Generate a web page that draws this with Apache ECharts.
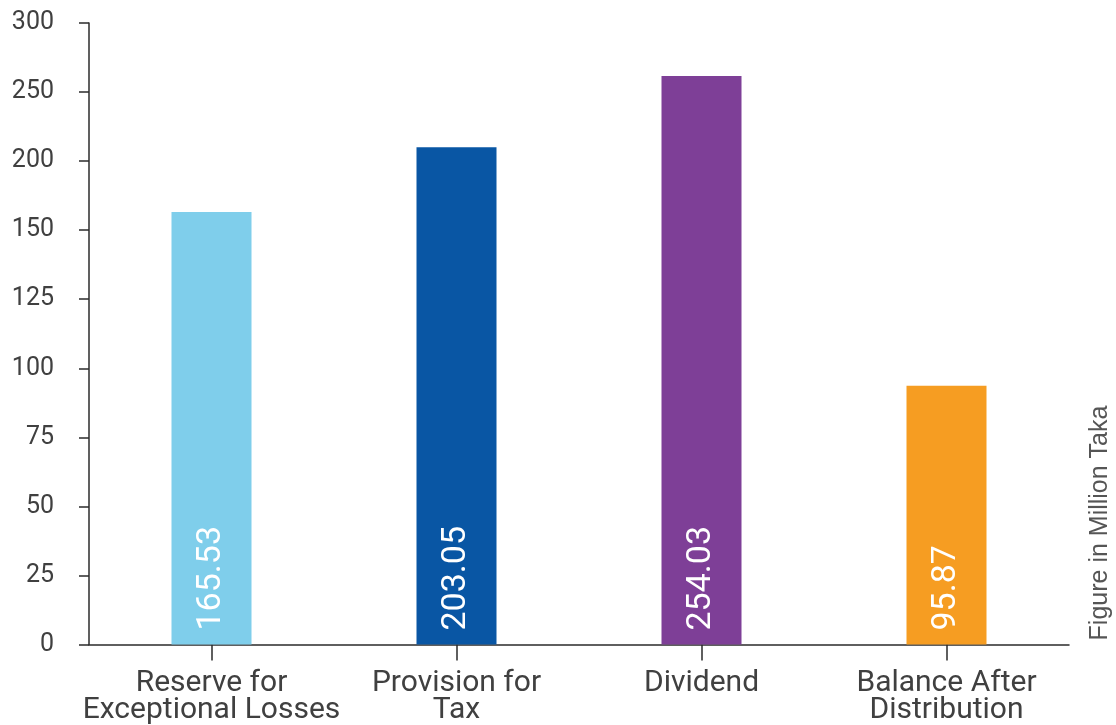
<!DOCTYPE html>
<html>
<head>
<meta charset="utf-8">
<script src="https://cdn.jsdelivr.net/npm/echarts@6/dist/echarts.min.js"></script>
<style>
  html, body { margin: 0; padding: 0; background: #ffffff; }
  #chart { width: 1116px; height: 725px; }
</style>
</head>
<body>
<div id="chart"></div>
<script>
// Appropriation of profit, figures in million Taka
const categories = [
  'Reserve for\nExceptional Losses',
  'Provision for\nTax',
  'Dividend',
  'Balance After\nDistribution'
];
const amounts = [165.53, 203.05, 254.03, 95.87];
const barColors = ['#7FCEEB', '#0956A4', '#7E3F97', '#F69D22'];
const yTickLabels = ['0', '25', '50', '75', '100', '125', '150', '200', '250', '300'];
const unitNote = 'Figure in Million Taka';

const axisColor = '#2b2b2b';
const textColor = '#404040';

const chart = echarts.init(document.getElementById('chart'), null, { renderer: 'canvas' });

chart.setOption({
  animation: false,
  backgroundColor: '#ffffff',
  grid: { left: 89, right: 47, top: 23, bottom: 79, containLabel: false },
  xAxis: {
    type: 'category',
    data: categories,
    boundaryGap: true,
    axisLine: { show: true, lineStyle: { color: axisColor, width: 1.5 } },
    axisTick: { show: true, alignWithLabel: true, length: 16, lineStyle: { color: axisColor, width: 1.5 } },
    axisLabel: {
      color: textColor,
      fontFamily: 'Roboto',
      fontSize: 30,
      lineHeight: 27,
      margin: 25,
      interval: 0
    },
    splitLine: { show: false }
  },
  yAxis: [
    {
      // labelled scale on the left
      type: 'value',
      min: 0,
      max: yTickLabels.length - 1,
      interval: 1,
      axisLine: { show: true, lineStyle: { color: axisColor, width: 1.5 } },
      axisTick: { show: true, length: 10, lineStyle: { color: axisColor, width: 1.5 } },
      axisLabel: {
        color: textColor,
        fontFamily: 'Roboto',
        fontSize: 25,
        margin: 35,
        formatter: function (v) { return yTickLabels[Math.round(v)] || ''; }
      },
      splitLine: { show: false }
    },
    {
      // value scale the bars are measured on
      type: 'log',
      logBase: 10,
      min: 42.5,
      max: 300,
      show: false,
      splitLine: { show: false }
    }
  ],
  series: [
    {
      type: 'bar',
      yAxisIndex: 1,
      barWidth: 80,
      clip: true,
      data: amounts.map(function (v, i) {
        return { value: v, itemStyle: { color: barColors[i] } };
      }),
      label: {
        show: true,
        position: 'insideBottom',
        rotate: 90,
        align: 'left',
        verticalAlign: 'middle',
        distance: 14,
        color: '#ffffff',
        fontFamily: 'Roboto',
        fontSize: 34,
        formatter: function (p) { return amounts[p.dataIndex].toFixed(2); }
      }
    }
  ],
  graphic: [
    {
      type: 'text',
      x: 1100,
      y: 523,
      rotation: Math.PI / 2,
      style: {
        text: unitNote,
        fill: '#555555',
        fontFamily: 'Liberation Sans',
        fontSize: 25,
        align: 'center',
        verticalAlign: 'middle'
      }
    }
  ]
});
</script>
</body>
</html>
